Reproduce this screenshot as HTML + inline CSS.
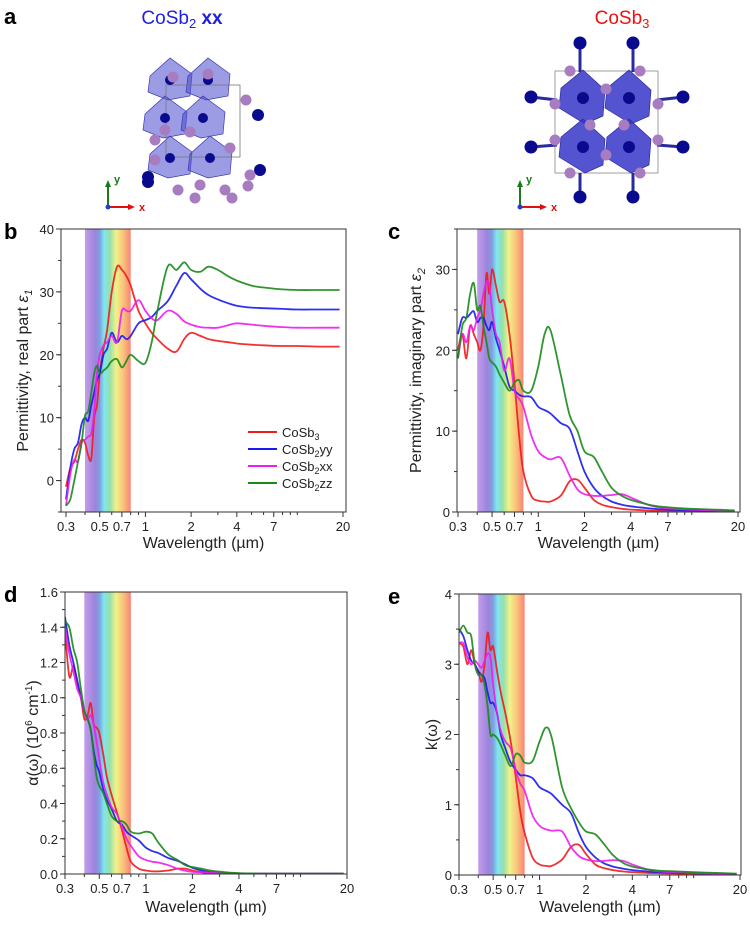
<!DOCTYPE html>
<html><head><meta charset="utf-8">
<style>
body{margin:0;background:#fff;width:750px;height:925px;overflow:hidden;font-family:"Liberation Sans",Arial,sans-serif}
svg text{font-family:"Liberation Sans",Arial,sans-serif}
</style></head>
<body>
<svg id="fig" width="750" height="925" viewBox="0 0 750 925" xmlns="http://www.w3.org/2000/svg">
<defs>
<linearGradient id="vis" x1="0" x2="1" y1="0" y2="0">
<stop offset="0" stop-color="#c49ceb"/>
<stop offset="0.22" stop-color="#9c84dc"/>
<stop offset="0.32" stop-color="#7f9fe0"/>
<stop offset="0.42" stop-color="#7fe6f0"/>
<stop offset="0.55" stop-color="#98e0a8"/>
<stop offset="0.68" stop-color="#f2f28a"/>
<stop offset="0.84" stop-color="#f9c27a"/>
<stop offset="1" stop-color="#f98378"/>
</linearGradient>
</defs>
<text x="4" y="24" font-size="22" font-weight="bold">a</text>
<text x="182" y="24" font-size="19" fill="#2020e0" text-anchor="middle">CoSb<tspan font-size="13" dy="4">2</tspan><tspan dy="-4" font-weight="bold"> xx</tspan></text>
<text x="622" y="24" font-size="19" fill="#ee1111" text-anchor="middle">CoSb<tspan font-size="13" dy="4">3</tspan></text>
<g id="struct1"></g>
<g id="struct2"></g>
<g id="panels"></g>
</svg>
<script>
var wl=[0.3,0.32,0.34,0.36,0.38,0.4,0.42,0.44,0.46,0.48,0.5,0.53,0.56,0.6,0.65,0.7,0.75,0.8,0.9,1,1.1,1.2,1.4,1.6,1.8,2,2.3,2.6,3,3.5,4,5,6,8,10,14,19];
var seriesNames=["CoSb3","CoSb2yy","CoSb2xx","CoSb2zz"];
// panel b: eps1
var e1Red=[-1,2,3,5,6.5,6,4,3.5,10,12,17,21,24,30,34,33.5,32.5,31,27,25,23.5,22.5,21,20.5,22.5,23.5,23,22.5,22.2,22,21.8,21.6,21.5,21.4,21.4,21.3,21.3];
var e1Blue=[-3,2,5,6,9,10,9.5,12,14,16,17,20,21,23.5,22,23,22.5,23,25,25.5,26,27,28.5,31,33,32,30.5,29.5,28.8,28.2,27.8,27.5,27.4,27.3,27.2,27.2,27.2];
var e1Mag=[-4,1,3.3,3,6,6.5,7,7.5,11,17,20,21.5,22,23,22,27,27,27,28.7,27,25.8,25.5,27,26.5,25.3,24.8,24.4,24.3,24.3,24.7,25,24.8,24.6,24.4,24.3,24.3,24.3];
var e1Green=[-4,-3,0,3,6,10.3,11,14,17,18.3,17,17.5,18,19,19.3,18,19,20,19,18.7,22,27,34,33.5,34.7,33.5,33.2,34,33.5,32.5,31.8,31,30.7,30.4,30.3,30.3,30.3];
// panel c: eps2
var e2Red=[20,22,19,23,22,21,20,23,29.5,27,30,28,26,26,22,16,9.5,5,2,1.4,1.3,1.3,2,3.8,4,3,1.5,0.9,0.6,0.4,0.3,0.2,0.15,0.1,0.08,0.05,0.03];
var e2Blue=[22,24,24,24.5,24.8,23.5,24,24,23,22.5,23.5,21.5,20,18,15.5,15,14.5,14.3,14.2,13,12.6,12.2,11,10.3,7.5,5,3,2,1.3,0.9,0.7,0.5,0.35,0.25,0.2,0.15,0.1];
var e2Mag=[19,22,21,23,22.5,24,25,27,28.5,28,25,22,21,17.5,19,15,14,13,9.5,7.5,6.8,6.5,6.7,4.5,2.8,2.2,2,2,2.1,2.2,1.8,1,0.6,0.4,0.3,0.2,0.1];
var e2Green=[19,23,24,27,28.3,25,25.5,23,21,19,18.5,18,17,16,15,16,16.3,15,15,18,22,22.5,17,12,10,7.5,6.8,5,3,2,1.5,1,0.7,0.5,0.4,0.3,0.2];
// panel d: alpha
var aRed=[1.38,1.12,1.18,1.08,1.0,0.88,0.9,0.97,0.85,0.83,0.8,0.68,0.55,0.45,0.35,0.25,0.15,0.07,0.03,0.02,0.015,0.015,0.02,0.03,0.03,0.02,0.01,0.005,0.003,0.002,0.002,0.001,0.001,0.001,0.001,0.001,0.001];
var aBlue=[1.46,1.3,1.2,1.1,1.0,0.92,0.88,0.82,0.7,0.62,0.58,0.48,0.42,0.37,0.3,0.28,0.24,0.22,0.19,0.15,0.13,0.12,0.09,0.075,0.055,0.035,0.02,0.012,0.008,0.005,0.003,0.002,0.002,0.002,0.002,0.002,0.002];
var aMag=[1.4,1.25,1.15,1.05,1.0,0.92,0.88,0.9,0.85,0.75,0.65,0.52,0.45,0.38,0.34,0.27,0.2,0.16,0.1,0.08,0.07,0.065,0.05,0.03,0.018,0.012,0.01,0.008,0.007,0.006,0.004,0.002,0.002,0.002,0.002,0.002,0.002];
var aGreen=[1.43,1.4,1.28,1.2,1.05,0.93,0.88,0.82,0.68,0.55,0.5,0.46,0.4,0.33,0.3,0.3,0.28,0.24,0.23,0.24,0.23,0.18,0.11,0.08,0.05,0.04,0.03,0.02,0.013,0.008,0.005,0.003,0.002,0.002,0.002,0.002,0.002];
// panel e: k
var kRed=[3.3,3.25,3.0,3.2,3.0,2.9,2.75,3.0,3.45,3.2,3.25,2.9,2.6,2.3,1.9,1.4,0.9,0.6,0.25,0.15,0.13,0.13,0.22,0.4,0.43,0.3,0.15,0.1,0.07,0.05,0.04,0.03,0.025,0.02,0.015,0.01,0.005];
var kBlue=[3.5,3.4,3.2,3.05,3.0,2.9,2.85,2.8,2.6,2.45,2.45,2.3,2.0,1.8,1.6,1.5,1.42,1.42,1.38,1.25,1.2,1.15,1.0,0.88,0.6,0.4,0.25,0.17,0.12,0.09,0.07,0.05,0.04,0.03,0.025,0.02,0.015];
var kMag=[3.3,3.3,3.1,3.0,3.05,3.0,2.95,3.05,3.15,3.1,2.7,2.3,2.05,1.9,1.8,1.5,1.3,1.2,0.85,0.7,0.65,0.63,0.62,0.4,0.27,0.22,0.2,0.2,0.21,0.2,0.15,0.08,0.05,0.04,0.03,0.02,0.01];
var kGreen=[3.45,3.55,3.45,3.4,3.0,2.85,2.85,2.7,2.4,2.0,2.0,1.95,1.85,1.7,1.55,1.72,1.7,1.6,1.62,1.9,2.1,1.95,1.25,0.95,0.75,0.62,0.58,0.45,0.28,0.17,0.12,0.08,0.06,0.05,0.04,0.03,0.02];
var xTickVals=[0.3,0.5,0.7,1,2,4,7,20];
var xTickLabels=["0.3","0.5","0.7","1","2","4","7","20"];
var xMinorVals=[0.4,0.6,0.8,0.9,3,5,6,8,9,10];
var visBand=[0.4,0.8];

var NS="http://www.w3.org/2000/svg";
var colors=["#ee1c1c","#1a1aee","#ee1cee","#1a8a1a"];
function mk(tag,attrs,parent){var e=document.createElementNS(NS,tag);for(var k in attrs)e.setAttribute(k,attrs[k]);parent.appendChild(e);return e;}

var panels=[
 {id:"b",L:61,R:346,T:229,B:512,p03:66,p20:343,ymin:-5,ymax:40,yt:[0,10,20,30,40],ytl:["0","10","20","30","40"],ym:5,
  data:[e1Red,e1Blue,e1Mag,e1Green],legend:true,xt:548,ytitleX:28,lx:4,ytitle:'Permittivity, real part <tspan font-style="italic">ε</tspan><tspan font-size="11" dy="4" font-style="italic">1</tspan>'},
 {id:"c",L:457,R:740,T:229,B:512,p03:458,p20:738,ymin:0,ymax:35,yt:[0,10,20,30],ytl:["0","10","20","30"],ym:5,
  data:[e2Red,e2Blue,e2Mag,e2Green],xt:548,ytitleX:421,lx:388,ytitle:'Permittivity, imaginary part <tspan font-style="italic">ε</tspan><tspan font-size="11" dy="4" font-style="italic">2</tspan>'},
 {id:"d",L:65,R:347,T:592,B:874,p03:65,p20:347,ymin:0,ymax:1.6,yt:[0,0.2,0.4,0.6,0.8,1.0,1.2,1.4,1.6],ytl:["0.0","0.2","0.4","0.6","0.8","1.0","1.2","1.4","1.6"],ym:0.1,
  data:[aRed,aBlue,aMag,aGreen],xt:912,ytitleX:38,lx:4,ytitle:'α(ω) (10<tspan font-size="10" dy="-6">6</tspan><tspan dy="6"> cm</tspan><tspan font-size="10" dy="-6">-1</tspan><tspan dy="6">)</tspan>'},
 {id:"e",L:459,R:741,T:594,B:875,p03:459,p20:740,ymin:0,ymax:4,yt:[0,1,2,3,4],ytl:["0","1","2","3","4"],ym:0.5,
  data:[kRed,kBlue,kMag,kGreen],xt:912,ytitleX:437,lx:388,ytitle:'k(ω)'}
];
var root=document.getElementById("panels");
panels.forEach(function(p){
 var g=mk("g",{},root);
 
 
 var lr=Math.log(20/0.3);
 function X(v){return p.p03+Math.log(v/0.3)/lr*(p.p20-p.p03);}
 function Y(v){return p.B-(v-p.ymin)/(p.ymax-p.ymin)*(p.B-p.T);}
 var band=mk("rect",{x:X(visBand[0]),y:p.T,width:X(visBand[1])-X(visBand[0]),height:p.B-p.T,fill:"url(#vis)"},g);
 
 
 var cp=mk("clipPath",{id:"clip"+p.id},g);mk("rect",{x:p.L,y:p.T,width:p.R-p.L,height:p.B-p.T},cp);
 var sg=mk("g",{"clip-path":"url(#clip"+p.id+")"},g);
 p.data.forEach(function(arr,si){
  var pts=[];for(var i=0;i<Math.min(arr.length,wl.length);i++)pts.push([X(wl[i]),Y(arr[i])]);
  var d="M"+pts[0][0].toFixed(1)+","+pts[0][1].toFixed(1);
  for(var i=0;i<pts.length-1;i++){var p0=pts[Math.max(0,i-1)],p1=pts[i],p2=pts[i+1],p3=pts[Math.min(pts.length-1,i+2)];
   var c1x=p1[0]+(p2[0]-p0[0])/6,c1y=p1[1]+(p2[1]-p0[1])/6,c2x=p2[0]-(p3[0]-p1[0])/6,c2y=p2[1]-(p3[1]-p1[1])/6;
   d+=" C"+c1x.toFixed(1)+","+c1y.toFixed(1)+" "+c2x.toFixed(1)+","+c2y.toFixed(1)+" "+p2[0].toFixed(1)+","+p2[1].toFixed(1);}
  var path=mk("path",{d:d,fill:"none",stroke:colors[si],"stroke-width":1.8,"stroke-opacity":0.9},sg);
  
  
 });
 var frame=mk("rect",{x:p.L,y:p.T,width:p.R-p.L,height:p.B-p.T,fill:"none",stroke:"#333","stroke-width":1},g);
 
 
 xTickVals.forEach(function(v,i){
  mk("line",{x1:X(v),x2:X(v),y1:p.B,y2:p.B+5,stroke:"#333"},g);
  var t=mk("text",{x:X(v),y:p.B+19,"font-size":13,"text-anchor":"middle",fill:"#222"},g);t.textContent=xTickLabels[i];
  
  
 });
 xMinorVals.forEach(function(v){mk("line",{x1:X(v),x2:X(v),y1:p.B,y2:p.B+3,stroke:"#333"},g);});
 p.yt.forEach(function(v,i){
  mk("line",{x1:p.L-5,x2:p.L,y1:Y(v),y2:Y(v),stroke:"#333"},g);
  var t=mk("text",{x:p.L-7,y:Y(v)+5,"font-size":13,"text-anchor":"end",fill:"#222"},g);t.textContent=p.ytl[i];
  
  
 });
 for(var v=p.ymin;v<=p.ymax+1e-9;v+=p.ym){mk("line",{x1:p.L-3,x2:p.L,y1:Y(v),y2:Y(v),stroke:"#333"},g);}
 var xt=mk("text",{x:(p.L+p.R)/2,y:p.xt,"font-size":16,"text-anchor":"middle",fill:"#222"},g);xt.textContent="Wavelength (µm)";
 
 
 var yc=(p.T+p.B)/2;
 var yt=mk("text",{x:p.ytitleX,y:yc,"font-size":16,"text-anchor":"middle",fill:"#222",transform:"rotate(-90 "+p.ytitleX+" "+yc+")"},g);
 yt.innerHTML=p.ytitle;
 
 
 var pl=mk("text",{x:p.lx,y:p.T+10,"font-size":22,"font-weight":"bold"},g);pl.textContent=p.id;
 
 
 if(p.legend){
  var lg=mk("g",{},g);
  
  
  var subs=["3","2","2","2"],suf=["","yy","xx","zz"];
  for(var i=0;i<4;i++){
   var yy=432+i*17;
   mk("line",{x1:248,x2:277,y1:yy,y2:yy,stroke:colors[i],"stroke-width":2},lg);
   var t=mk("text",{x:282,y:yy+5,"font-size":13,fill:"#222"},lg);
   t.innerHTML='CoSb<tspan font-size="9" dy="3">'+subs[i]+'</tspan><tspan dy="-3">'+suf[i]+'</tspan>';
   
   
  }
 }
});

// crystal structures (decorative)
function axes(g,x,y){
 mk("line",{x1:x,y1:y,x2:x,y2:y-22,stroke:"#1a7a1a","stroke-width":2},g);
 mk("polygon",{points:(x-3)+","+(y-20)+" "+(x+3)+","+(y-20)+" "+x+","+(y-27),fill:"#1a7a1a"},g);
 mk("line",{x1:x,y1:y,x2:x+22,y2:y,stroke:"#e01010","stroke-width":2},g);
 mk("polygon",{points:(x+20)+","+(y-3)+" "+(x+20)+","+(y+3)+" "+(x+27)+","+y,fill:"#e01010"},g);
 mk("circle",{cx:x,cy:y,r:2.5,fill:"#2040d0"},g);
 var ty=mk("text",{x:x+6,y:y-24,"font-size":11,fill:"#1a7a1a","font-weight":"bold"},g);ty.textContent="y";
 var tx=mk("text",{x:x+31,y:y+4,"font-size":11,fill:"#e01010","font-weight":"bold"},g);tx.textContent="x";
}
// left: CoSb2
var s1=document.getElementById("struct1");
var octL=[[170,80],[208,80],[165,118],[203,118],[170,158],[210,158]];
octL.forEach(function(c){
 var pts=[[-20,-4],[0,-22],[22,-6],[20,16],[-2,20],[-22,12]].map(function(o){return (c[0]+o[0])+","+(c[1]+o[1]);}).join(" ");
 mk("polygon",{points:pts,fill:"#4a4ad0","fill-opacity":0.55,stroke:"#3a3ab0","stroke-width":0.7},s1);
});
mk("rect",{x:166,y:85,width:74,height:72,fill:"none",stroke:"#777","stroke-width":0.8},s1);
octL.forEach(function(c){mk("circle",{cx:c[0],cy:c[1],r:5,fill:"#0a0a90"},s1);});
[[258,115],[260,170],[148,182],[148,237-60]].forEach(function(c){mk("circle",{cx:c[0],cy:c[1],r:6,fill:"#0a0a8e"},s1);});
[[173,77],[208,74],[246,100],[155,140],[155,160],[190,132],[230,148],[200,185],[248,186],[178,220-30],[225,210-20],[250,175],[195,198],[232,198],[165,130]].forEach(function(c){mk("circle",{cx:c[0],cy:c[1],r:5.5,fill:"#a77cc0"},s1);});
axes(s1,108,207);
// right: CoSb3
var s2=document.getElementById("struct2");
mk("rect",{x:555,y:71,width:103,height:102,fill:"none",stroke:"#888","stroke-width":0.8},s2);
[[[580,43],[580,72]],[[633,43],[633,72]],[[531,97],[557,100]],[[683,97],[657,100]],[[531,147],[557,145]],[[683,147],[657,145]],[[580,197],[580,173]],[[633,197],[633,173]]].forEach(function(l){
 mk("line",{x1:l[0][0],y1:l[0][1],x2:l[1][0],y2:l[1][1],stroke:"#2a2aa0","stroke-width":3},s2);
 mk("circle",{cx:l[0][0],cy:l[0][1],r:6.5,fill:"#0a0a8e"},s2);
});
[[583,98],[629,98],[583,147],[629,147]].forEach(function(c){
 var pts=[[0,-28],[22,-8],[20,18],[2,26],[-24,10],[-22,-10]].map(function(o){return (c[0]+o[0])+","+(c[1]+o[1]);}).join(" ");
 mk("polygon",{points:pts,fill:"#3636c8","fill-opacity":0.85,stroke:"#2a2aa0","stroke-width":0.7},s2);
 mk("circle",{cx:c[0],cy:c[1],r:6,fill:"#0a0a8e"},s2);
});
[[570,71],[640,71],[606,89],[555,104],[658,104],[590,125],[624,125],[555,140],[658,140],[606,155],[570,173],[640,173]].forEach(function(c){mk("circle",{cx:c[0],cy:c[1],r:5.5,fill:"#a77cc0"},s2);});
axes(s2,520,207);
</script>
</body></html>
